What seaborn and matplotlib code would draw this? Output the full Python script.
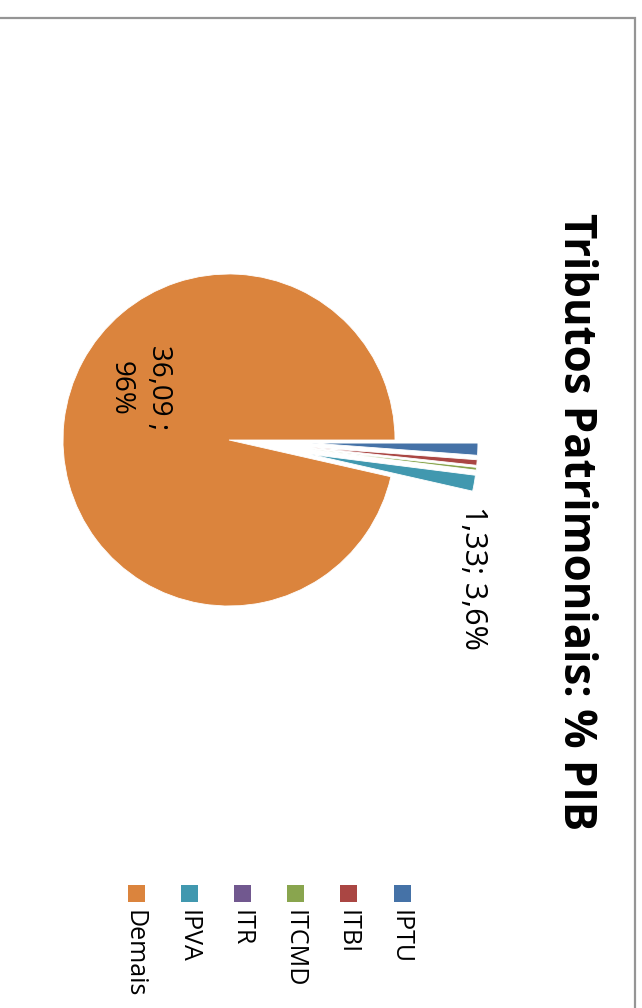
import matplotlib
matplotlib.use("Agg")
import matplotlib.pyplot as plt
from matplotlib.patches import Rectangle
import seaborn as sns

# ======================== dados ========================
categorias = ["IPTU", "ITBI", "ITCMD", "ITR", "IPVA", "Demais"]
valores = [0.44, 0.20, 0.10, 0.01, 0.58, 36.09]   # % do PIB
cores = ["#4572A7", "#AA4643", "#89A54E", "#71588F", "#4198AF", "#DB843D"]
destaque = [0.5, 0.5, 0.5, 0.5, 0.5, 0.0]          # fracao do raio (fatias patrimoniais)
titulo = "Tributos Patrimoniais: % PIB"

total = sum(valores)
patrim = sum(valores[:5])
rotulo_demais = f"{valores[-1]:.2f} ;\n{valores[-1] / total:.0%}".replace(".", ",")
rotulo_patrim = f"{patrim:.2f}; {patrim / total * 100:.1f}%".replace(".", ",")

# ======================== figura ========================
sns.set_theme(style="white")
plt.rcParams["font.family"] = ["Open Sans", "DejaVu Sans"]

W, H = 642, 1008
RAIO = 166
fig = plt.figure(figsize=(W / 100, H / 100), dpi=100)
ax = fig.add_axes([0, 0, 1, 1])

# grafico girado 90 graus (como na imagem original)
ax.pie(valores, colors=sns.color_palette(cores),
       explode=[d * RAIO for d in destaque],
       startangle=0, counterclock=False, center=(229, H - 440), radius=RAIO,
       wedgeprops=dict(edgecolor="white", linewidth=0.6))
ax.set_xlim(0, W)
ax.set_ylim(0, H)
ax.set_aspect("equal")
ax.axis("off")

# rotulos de dados
ax.text(140, H - 388, rotulo_demais, rotation=-90, ha="center", va="center",
        fontsize=20, multialignment="center", linespacing=1.5, color="black")
ax.text(473, H - 578, rotulo_patrim, rotation=-90, ha="center", va="center",
        fontsize=22, color="black")

# titulo
ax.text(576, H - 522, titulo, rotation=-90, ha="center", va="center",
        fontsize=31.5, fontweight="bold", color="black")

# legenda (girada)
for i, (cat, cor) in enumerate(zip(categorias, cores)):
    xc = 402 - i * 53.1
    ax.add_patch(Rectangle((xc - 8.5, H - 902), 17, 17, facecolor=cor,
                           edgecolor="none", clip_on=False))
    ax.text(xc - 2, H - 910, cat, rotation=-90, ha="center", va="top",
            fontsize=18, color="black")

# moldura do grafico
ax.add_patch(Rectangle((-10, -10), 645, H - 18 + 10, facecolor="none",
                       edgecolor="#959595", linewidth=1.6, clip_on=False))

fig.savefig("out.png", dpi=100)
plt.close(fig)
